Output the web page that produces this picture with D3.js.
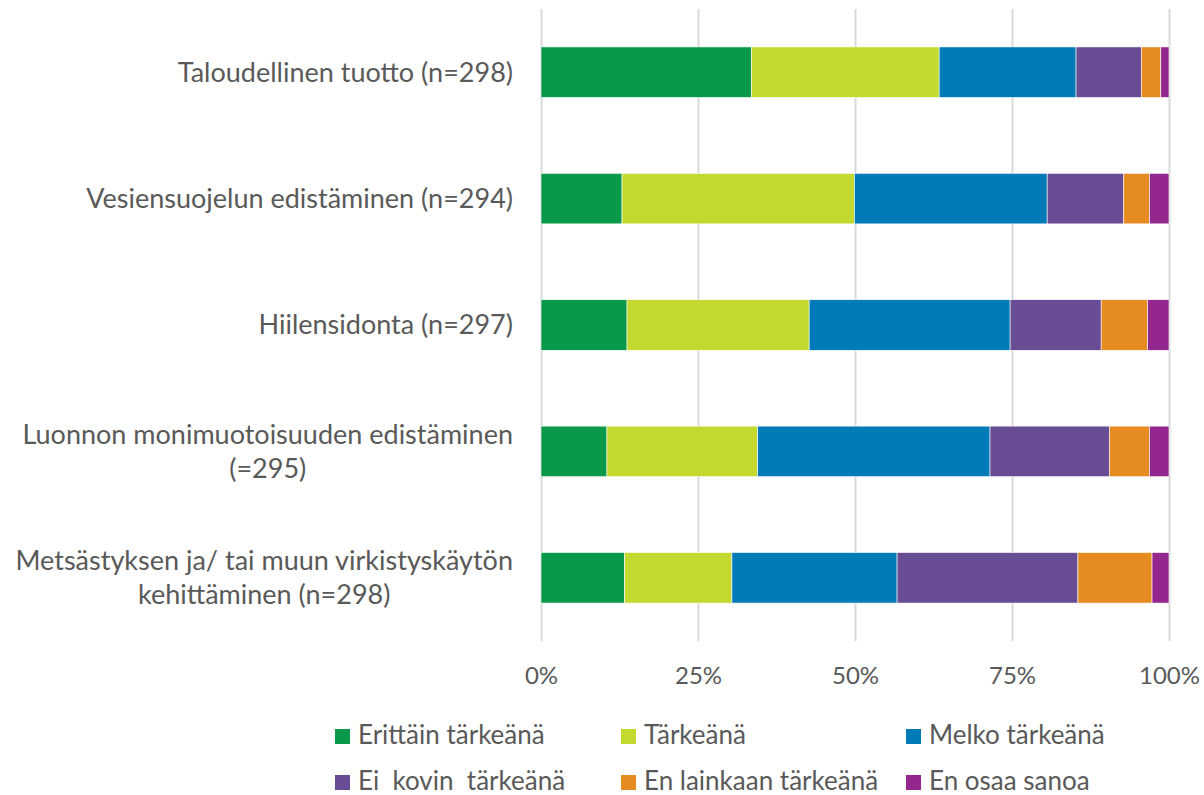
<!DOCTYPE html>
<html>
<head>
<meta charset="utf-8">
<style>
  body { margin: 0; background: #fff; }
  svg text { font-family: Lato, "Open Sans", sans-serif; fill: #595959; }
  .grid line { stroke: #d9d9d9; stroke-width: 2px; }
  .legend text { white-space: pre; }
</style>
</head>
<body>
<svg id="chart" width="1204" height="795"></svg>
<script src="https://cdn.jsdelivr.net/npm/d3@7/dist/d3.min.js"></script>
<script>
  // DATA
  var categories = [
    ["Taloudellinen tuotto (n=298)"],
    ["Vesiensuojelun edistäminen (n=294)"],
    ["Hiilensidonta (n=297)"],
    ["Luonnon monimuotoisuuden edistäminen", "(=295)"],
    ["Metsästyksen ja/ tai muun virkistyskäytön", "kehittäminen (n=298)"]
  ];
  var seriesNames = ["Erittäin tärkeänä", "Tärkeänä", "Melko tärkeänä",
    "Ei  kovin  tärkeänä", "En lainkaan tärkeänä", "En osaa sanoa"];
  var erittain = [33.5, 12.9, 13.7, 10.5, 13.3];
  var tarkea   = [29.9, 37.0, 29.0, 24.0, 17.1];
  var melko    = [21.8, 30.7, 32.0, 37.0, 26.3];
  var eiKovin  = [10.4, 12.2, 14.5, 19.0, 28.8];
  var eiLain   = [3.1, 4.1, 7.4, 6.4, 11.8];
  var eiOsaa   = [1.3, 3.1, 3.4, 3.1, 2.7];
  var tickValues = [0, 0.25, 0.5, 0.75, 1];
  var colours = ["#0a984a", "#c3d92f", "#007bb8", "#684c94", "#e58b1f", "#93278d"];

  var seriesValues = [erittain, tarkea, melko, eiKovin, eiLain, eiOsaa];

  // table for d3.stack
  var rows = categories.map(function(c, i) {
    var r = { key: i };
    seriesNames.forEach(function(s, j) { r[s] = seriesValues[j][i]; });
    return r;
  });

  var svg = d3.select("#chart");
  var plotLeft = 541, plotRight = 1169, plotTop = 9, plotBottom = 641;

  var x = d3.scaleLinear().domain([0, 1]).range([plotLeft, plotRight]);
  var y = d3.scaleBand()
    .domain(d3.range(categories.length))
    .range([plotTop, plotBottom])
    .paddingInner(0.6)
    .paddingOuter(0.3);
  var colour = d3.scaleOrdinal().domain(seriesNames).range(colours);

  // gridlines
  svg.append("g")
    .attr("class", "grid")
    .attr("transform", "translate(0," + plotBottom + ")")
    .call(d3.axisBottom(x).tickValues(tickValues).tickSize(-(plotBottom - plotTop)).tickFormat(""))
    .call(function(g) { g.select(".domain").remove(); });

  // x tick labels
  svg.append("g")
    .attr("transform", "translate(0," + plotBottom + ")")
    .call(d3.axisBottom(x).tickValues(tickValues).tickSize(0).tickPadding(26)
      .tickFormat(d3.format(".0%")))
    .call(function(g) {
      g.select(".domain").remove();
      g.selectAll("text").attr("font-size", 24).attr("fill", "#595959")
        .style("font-family", "Lato, 'Open Sans', sans-serif");
    });

  // stacked bars
  var stack = d3.stack().keys(seriesNames).offset(d3.stackOffsetExpand);
  var layers = svg.append("g").selectAll("g")
    .data(stack(rows))
    .enter().append("g")
    .attr("fill", function(d) { return colour(d.key); });

  layers.selectAll("rect")
    .data(function(d) { return d; })
    .enter().append("rect")
    .attr("x", function(d) { return x(d[0]); })
    .attr("width", function(d) { return x(d[1]) - x(d[0]); })
    .attr("y", function(d) { return y(d.data.key); })
    .attr("height", y.bandwidth())
    .attr("stroke", "#fff")
    .attr("stroke-width", 0.6);

  // category labels (multi-line ones are centred as a block, block right-aligned)
  var labelRight = 513, lineGap = 34;
  categories.forEach(function(lines, i) {
    var cy = y(i) + y.bandwidth() / 2;
    var g = svg.append("g");
    var texts = lines.map(function(line, k) {
      return g.append("text")
        .attr("font-size", 27)
        .attr("y", cy + (k - (lines.length - 1) / 2) * lineGap)
        .attr("dy", "0.35em")
        .text(line);
    });
    var w = d3.max(texts, function(t) { return t.node().getComputedTextLength(); });
    texts.forEach(function(t) {
      t.attr("text-anchor", "middle").attr("x", labelRight - w / 2);
    });
  });

  // legend
  var legendX = [335, 621, 906], legendY = [729, 775];
  var legend = svg.append("g").attr("class", "legend")
    .selectAll("g")
    .data(seriesNames)
    .enter().append("g")
    .attr("transform", function(d, i) {
      return "translate(" + legendX[i % 3] + "," + legendY[Math.floor(i / 3)] + ")";
    });
  legend.append("rect")
    .attr("width", 15).attr("height", 15)
    .attr("fill", function(d) { return colour(d); });
  legend.append("text")
    .attr("x", 23).attr("y", 15)
    .attr("font-size", 26)
    .text(function(d) { return d; });
</script>
</body>
</html>
